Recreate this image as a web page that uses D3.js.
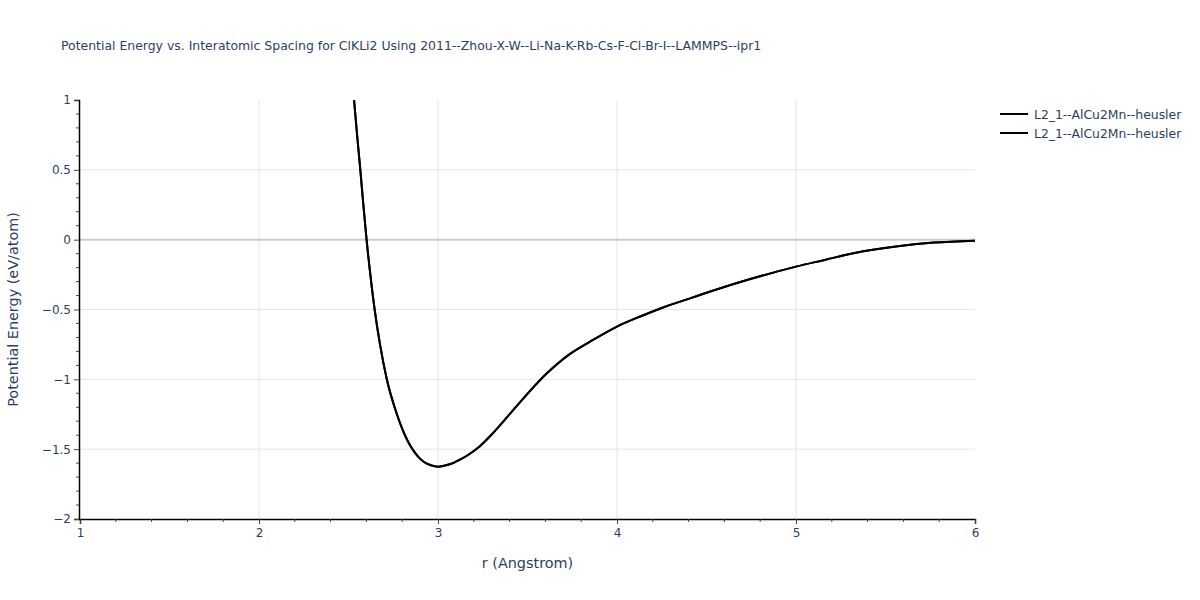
<!DOCTYPE html>
<html><head><meta charset="utf-8">
<script src="https://cdn.jsdelivr.net/npm/d3@7"></script>
<style>body{margin:0;background:#fff}svg{font-family:"DejaVu Sans",Verdana,sans-serif}</style>
</head><body><svg id="c" width="1200" height="600"></svg>
<script>
const title = "Potential Energy vs. Interatomic Spacing for ClKLi2 Using 2011--Zhou-X-W--Li-Na-K-Rb-Cs-F-Cl-Br-I--LAMMPS--ipr1";
const seriesNames = ["L2_1--AlCu2Mn--heusler", "L2_1--AlCu2Mn--heusler"];
const rValues = [2.531, 2.548, 2.566, 2.583, 2.601, 2.622, 2.646, 2.676, 2.714, 2.769, 2.802, 2.830, 2.860, 2.890, 2.920, 2.96, 3.00, 3.05, 3.09, 3.12, 3.17, 3.22, 3.32, 3.42, 3.61, 3.73, 3.85, 4.00, 4.14, 4.28, 4.42, 4.56, 4.74, 5.00, 5.16, 5.32, 5.58, 5.77, 6.00];
const energyValues = [1.0, 0.75, 0.5, 0.25, 0.0, -0.25, -0.5, -0.75, -1.0, -1.245, -1.36, -1.44, -1.505, -1.555, -1.59, -1.615, -1.625, -1.614, -1.596, -1.577, -1.54, -1.494, -1.367, -1.22, -0.955, -0.825, -0.73, -0.622, -0.545, -0.475, -0.415, -0.355, -0.284, -0.193, -0.145, -0.097, -0.045, -0.021, -0.007];
const xTicks = [1, 2, 3, 4, 5, 6];
const yTicks = [1, 0.5, 0, -0.5, -1, -1.5, -2];

const svg = d3.select("#c");
const L = 80, R = 975, T = 100, B = 519;
const x = d3.scaleLinear().domain([1, 6]).range([L, R]);
const y = d3.scaleLinear().domain([-2, 1]).range([B, T]);
const txt = "#2a3f5f";
const fmt = d => d < 0 ? "\u2212" + Math.abs(d) : String(d);

// grid
svg.append("g").selectAll("line").data(xTicks.filter(d => d > 1 && d < 6)).join("line")
  .attr("x1", d => x(d)).attr("x2", d => x(d)).attr("y1", T).attr("y2", B)
  .attr("stroke", "#e5e5e5").attr("stroke-width", 1);
svg.append("g").selectAll("line").data(yTicks.filter(d => d > -2 && d < 1)).join("line")
  .attr("x1", L).attr("x2", R).attr("y1", d => y(d)).attr("y2", d => y(d))
  .attr("stroke", d => d === 0 ? "#cccccc" : "#e5e5e5").attr("stroke-width", d => d === 0 ? 2 : 1);

// line
svg.append("clipPath").attr("id", "clip").append("rect").attr("x", L).attr("y", T).attr("width", R - L).attr("height", B - T);
const line = d3.line().x((d, i) => x(rValues[i])).y(d => y(d)).curve(d3.curveMonotoneX);
seriesNames.forEach(() => {
  svg.append("path").datum(energyValues).attr("d", line).attr("fill", "none")
    .attr("stroke", "#000").attr("stroke-width", 2).attr("stroke-linejoin", "round").attr("clip-path", "url(#clip)");
});

// axes
const xAxis = d3.axisBottom(x).tickValues(xTicks).tickFormat(fmt).tickSize(5).tickPadding(4);
const gx = svg.append("g").attr("transform", `translate(0,${B})`).call(xAxis);
const xMinor = d3.range(1, 6.001, 0.2).filter(v => Math.abs(v - Math.round(v)) > 1e-6);
gx.selectAll(".minor").data(xMinor).join("line").attr("class", "minor")
  .attr("x1", d => x(d)).attr("x2", d => x(d)).attr("y1", 0).attr("y2", 3).attr("stroke", "#444");
const yAxis = d3.axisLeft(y).tickValues(yTicks).tickFormat(fmt).tickSize(5).tickPadding(3);
const gy = svg.append("g").attr("transform", `translate(${L - 1},0)`).call(yAxis);
const yMinor = d3.range(-20, 11).map(v => v / 10).filter(v => Math.abs(v * 2 - Math.round(v * 2)) > 1e-6);
gy.selectAll(".minor").data(yMinor).join("line").attr("class", "minor")
  .attr("x1", 0).attr("x2", -3).attr("y1", d => y(d)).attr("y2", d => y(d)).attr("stroke", "#444");
[gx, gy].forEach(g => {
  g.select(".domain").attr("stroke", "#000").attr("stroke-width", 1.5);
  g.selectAll(".tick line").attr("stroke", "#444");
  g.selectAll(".tick text").attr("fill", txt).style("font-size", "12px").style("font-family", "'DejaVu Sans',Verdana,sans-serif");
});

// titles
svg.append("text").attr("x", 61).attr("y", 50).attr("fill", txt).style("font-size", "12.45px").text(title);
svg.append("text").attr("x", (L + R) / 2).attr("y", 568).attr("text-anchor", "middle").attr("fill", txt).style("font-size", "14.4px").text("r (Angstrom)");
svg.append("text").attr("transform", `translate(18,${(T + B) / 2}) rotate(-90)`).attr("text-anchor", "middle").attr("fill", txt).style("font-size", "14.4px").text("Potential Energy (eV/atom)");

// legend
const lg = svg.append("g").selectAll("g").data(seriesNames).join("g").attr("transform", (d, i) => `translate(1000,${114 + i * 19})`);
lg.append("line").attr("x1", 0).attr("x2", 28).attr("stroke", "#000").attr("stroke-width", 2);
lg.append("text").attr("x", 34).attr("y", 4.5).attr("fill", txt).style("font-size", "12.4px").text(d => d);
</script></body></html>
